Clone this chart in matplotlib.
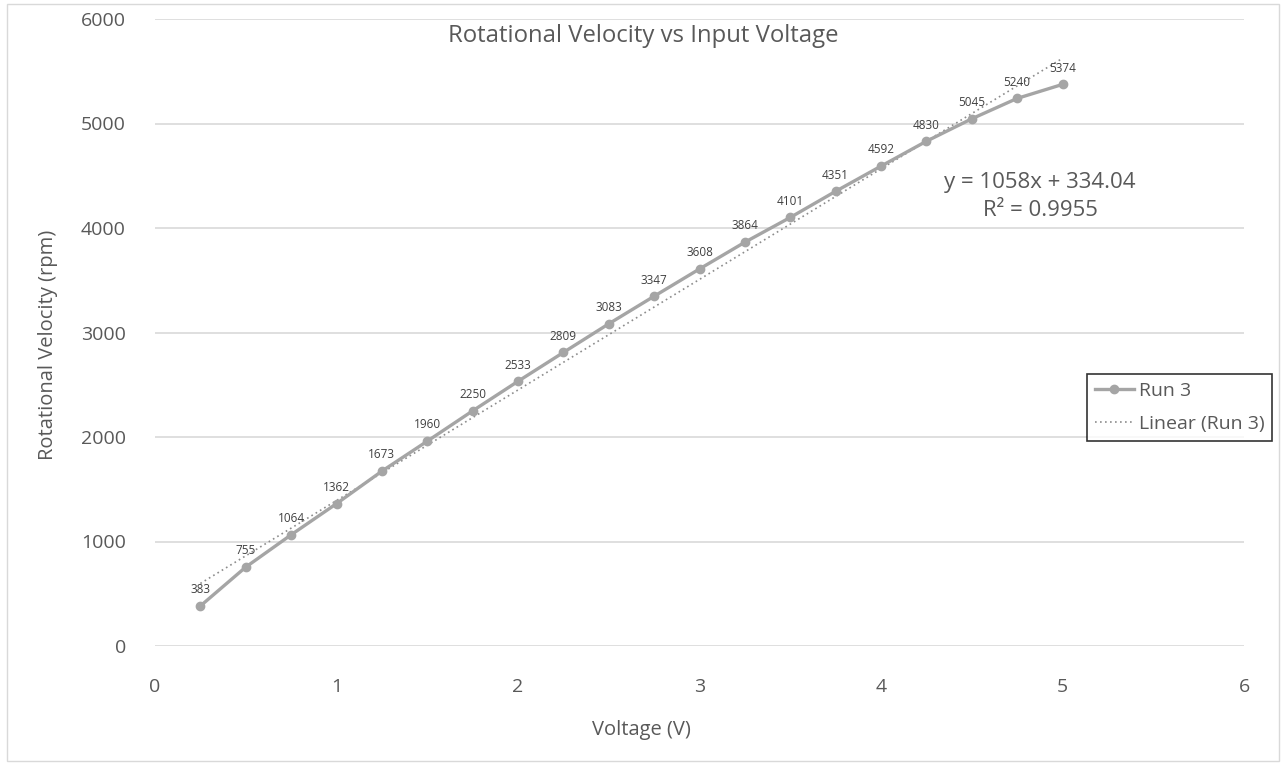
import numpy as np
import matplotlib
matplotlib.use("Agg")
import matplotlib.pyplot as plt
from matplotlib.patches import Rectangle
from matplotlib.lines import Line2D

plt.rcParams['font.family'] = ['Open Sans', 'DejaVu Sans']

# Measured motor speed for each input voltage step
voltage = [0.25, 0.5, 0.75, 1.0, 1.25, 1.5, 1.75, 2.0, 2.25, 2.5,
           2.75, 3.0, 3.25, 3.5, 3.75, 4.0, 4.25, 4.5, 4.75, 5.0]
rpm_run3 = [383, 755, 1064, 1362, 1673, 1960, 2250, 2533, 2809, 3083,
            3347, 3608, 3864, 4101, 4351, 4592, 4830, 5045, 5240, 5374]

# Linear trendline coefficients
slope = 1058
intercept = 334.04
r_squared = 0.9955

title = "Rotational Velocity vs Input Voltage"
x_label = "Voltage (V)"
y_label = "Rotational Velocity (rpm)"
x_ticks = [0, 1, 2, 3, 4, 5, 6]
y_ticks = [0, 1000, 2000, 3000, 4000, 5000, 6000]

text_col = "#595959"
line_col = "#A5A5A5"
grid_col = "#D9D9D9"

W, H = 1281, 764
fig = plt.figure(figsize=(W / 100, H / 100), dpi=100)
fig.patch.set_facecolor("white")

# Chart-area border
fig.patches.append(Rectangle((7 / W, 1 - 761 / H), (1279 - 7) / W, (761 - 4) / H,
                             transform=fig.transFigure, fill=False,
                             edgecolor=grid_col, linewidth=1.0))

ax = fig.add_axes([155 / W, 1 - 646 / H, (1244 - 155) / W, (646 - 19) / H])
ax.set_xlim(0, 6)
ax.set_ylim(0, 6000)
for s in ax.spines.values():
    s.set_visible(False)
ax.set_xticks(x_ticks)
ax.set_yticks(y_ticks)
ax.tick_params(length=0, labelsize=14, labelcolor=text_col)
ax.tick_params(axis='x', pad=23)
ax.tick_params(axis='y', pad=21)
ax.yaxis.grid(True, color=grid_col, linewidth=1.2)
ax.set_axisbelow(True)

# Data series
ax.plot(voltage, rpm_run3, color=line_col, linewidth=2.4, marker='o',
        markersize=6, markerfacecolor=line_col, markeredgecolor=line_col,
        zorder=3)

# Trendline
xt = np.array([voltage[0], voltage[-1]])
ax.plot(xt, slope * xt + intercept, color="#8C8C8C", linestyle=(0, (1, 2)),
        linewidth=1.2, zorder=2)

# Point labels
for xv, yv in zip(voltage, rpm_run3):
    ax.annotate(f"{yv}", (xv, yv), xytext=(0, 7), textcoords="offset points",
                ha="center", va="bottom", fontsize=8.5, color="#404040", zorder=4)

# Trendline equation
ax.text(4.876, 4300, f"y = {slope}x + {intercept:.2f}\nR² = {r_squared}",
        ha="center", va="center", multialignment="center",
        fontsize=16, color=text_col, linespacing=1.45)

fig.text(643 / W, 1 - 36 / H, title, ha="center", va="center",
         fontsize=17.2, color=text_col)
fig.text(641 / W, 1 - 730 / H, x_label, ha="center", va="center",
         fontsize=14.5, color=text_col)
fig.text(48 / W, 1 - 345 / H, y_label, ha="center", va="center",
         rotation=90, fontsize=14.5, color=text_col)

handles = [
    Line2D([], [], color=line_col, linewidth=2.4, marker='o', markersize=6),
    Line2D([], [], color="#8C8C8C", linestyle=(0, (1, 2)), linewidth=1.2),
]
leg = fig.legend(handles, ["Run 3", "Linear (Run 3)"],
                 loc="center left", bbox_to_anchor=(1087 / W, 1 - 407.5 / H),
                 frameon=True, fancybox=False, fontsize=14,
                 handlelength=2.0, handletextpad=0.25, borderpad=0.4,
                 labelspacing=0.75, borderaxespad=0)
leg.get_frame().set_edgecolor("black")
leg.get_frame().set_linewidth(1.2)
for t in leg.get_texts():
    t.set_color(text_col)

fig.savefig("out.png", dpi=100)
